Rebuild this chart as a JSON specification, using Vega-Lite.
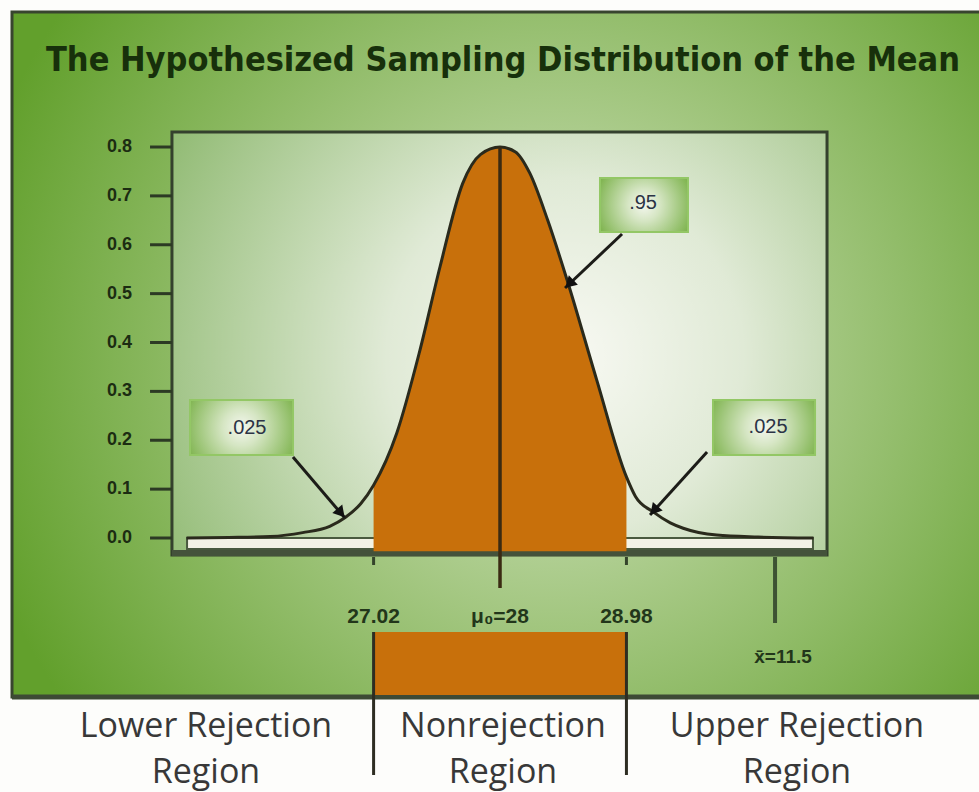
{
  "$schema": "https://vega.github.io/schema/vega-lite/v6.json",
  "width": 979,
  "height": 792,
  "autosize": {"type": "none"},
  "padding": 0,
  "background": "#fdfdfb",
  "config": {"view": {"stroke": null}},
  "datasets": {
    "curve": [
      {"x": 25.57, "density": 0.0},
      {"x": 25.9, "density": 0.001},
      {"x": 26.22, "density": 0.003},
      {"x": 26.47, "density": 0.011},
      {"x": 26.68, "density": 0.024},
      {"x": 26.8, "density": 0.042},
      {"x": 26.92, "density": 0.07},
      {"x": 27.02, "density": 0.108},
      {"x": 27.2, "density": 0.215},
      {"x": 27.38, "density": 0.385},
      {"x": 27.535, "density": 0.555},
      {"x": 27.71, "density": 0.725},
      {"x": 27.85, "density": 0.785},
      {"x": 28.0, "density": 0.8},
      {"x": 28.12, "density": 0.79},
      {"x": 28.23, "density": 0.747},
      {"x": 28.37, "density": 0.65},
      {"x": 28.52, "density": 0.528},
      {"x": 28.75, "density": 0.323},
      {"x": 28.98, "density": 0.125},
      {"x": 29.05, "density": 0.085},
      {"x": 29.19, "density": 0.053},
      {"x": 29.32, "density": 0.031},
      {"x": 29.42, "density": 0.02},
      {"x": 29.68, "density": 0.006},
      {"x": 30.0, "density": 0.002},
      {"x": 30.43, "density": 0.0}
    ],
    "yticks": [
      {"v": 0.0}, {"v": 0.1}, {"v": 0.2}, {"v": 0.3}, {"v": 0.4}, {"v": 0.5}, {"v": 0.6}, {"v": 0.7}, {"v": 0.8}
    ],
    "critical": [
      {"label": "27.02", "x": 27.02},
      {"label": "μ₀=28", "x": 28.0},
      {"label": "28.98", "x": 28.98}
    ],
    "sample": [{"label": "x̄=11.5", "x": 30.132}],
    "regions": [
      {"name": "Lower Rejection\nRegion", "x": 25.721},
      {"name": "Nonrejection\nRegion", "x": 28.023},
      {"name": "Upper Rejection\nRegion", "x": 30.302}
    ],
    "callouts": [
      {"label": ".025", "bx": 25.597, "bx2": 26.395, "by": 0.2824, "by2": 0.1698, "tx": 26.039, "ty": 0.2251, "ax": 26.395, "ay": 0.1657, "hx": 26.798, "hy": 0.0409, "cx": 26.767, "cy": 0.0511},
      {"label": ".95", "bx": 28.775, "bx2": 29.457, "by": 0.7366, "by2": 0.6261, "tx": 29.109, "ty": 0.6854, "ax": 28.946, "ay": 0.622, "hx": 28.504, "hy": 0.5115, "cx": 28.537, "cy": 0.52},
      {"label": ".025", "bx": 29.651, "bx2": 30.442, "by": 0.2824, "by2": 0.1698, "tx": 30.078, "ty": 0.2271, "ax": 29.605, "ay": 0.176, "hx": 29.163, "hy": 0.0471, "cx": 29.194, "cy": 0.0563}
    ],
    "frame": [{"title": "The Hypothesized Sampling Distribution of the Mean"}]
  },
  "layer": [
    {
      "data": {"name": "frame"},
      "mark": {"type": "rect", "stroke": "#38452f", "strokeWidth": 3,
        "fill": {"gradient": "radial", "x1": 0.56, "y1": 0.5, "r1": 0, "x2": 0.56, "y2": 0.5, "r2": 0.62,
          "stops": [{"offset": 0, "color": "#d6e6c6"}, {"offset": 0.45, "color": "#a2c67f"}, {"offset": 1, "color": "#62a02c"}]}},
      "encoding": {
        "x": {"datum": 24.217, "type": "quantitative", "scale": {"domain": [24.124, 31.713], "nice": false, "zero": false}, "axis": null},
        "x2": {"datum": 31.75},
        "y": {"datum": 1.0762, "type": "quantitative", "scale": {"domain": [-0.5197, 1.1008], "nice": false, "zero": false}, "axis": null},
        "y2": {"datum": -0.3253}
      }
    },
    {
      "data": {"name": "frame"},
      "mark": {"type": "rule", "stroke": "#3d4a35", "strokeWidth": 5},
      "encoding": {
        "x": {"datum": 24.217, "type": "quantitative", "scale": {"domain": [24.124, 31.713], "nice": false, "zero": false}, "axis": null},
        "x2": {"datum": 31.75},
        "y": {"datum": -0.3253, "type": "quantitative", "scale": {"domain": [-0.5197, 1.1008], "nice": false, "zero": false}, "axis": null}
      }
    },
    {
      "data": {"name": "frame"},
      "mark": {"type": "rect", "stroke": "#34412d", "strokeWidth": 3,
        "fill": {"gradient": "radial", "x1": 0.6, "y1": 0.52, "r1": 0, "x2": 0.6, "y2": 0.52, "r2": 0.68,
          "stops": [{"offset": 0, "color": "#f8f9f3"}, {"offset": 0.4, "color": "#e0ead6"}, {"offset": 1, "color": "#93bc76"}]}},
      "encoding": {
        "x": {"datum": 25.457, "type": "quantitative", "scale": {"domain": [24.124, 31.713], "nice": false, "zero": false}, "axis": null},
        "x2": {"datum": 30.535},
        "y": {"datum": 0.8307, "type": "quantitative", "scale": {"domain": [-0.5197, 1.1008], "nice": false, "zero": false}, "axis": null},
        "y2": {"datum": -0.0348}
      }
    },
    {
      "data": {"name": "yticks"},
      "mark": {"type": "rule", "stroke": "#2c3a24", "strokeWidth": 3},
      "encoding": {
        "x": {"datum": 25.287, "type": "quantitative", "scale": {"domain": [24.124, 31.713], "nice": false, "zero": false}, "axis": null},
        "x2": {"datum": 25.457},
        "y": {"field": "v", "type": "quantitative", "scale": {"domain": [-0.5197, 1.1008], "nice": false, "zero": false}, "axis": null}
      }
    },
    {
      "data": {"name": "yticks"},
      "mark": {"type": "text", "font": "Liberation Sans", "fontSize": 18, "fontWeight": "bold", "color": "#1c2c12", "align": "right", "baseline": "middle"},
      "encoding": {
        "x": {"datum": 25.147, "type": "quantitative", "scale": {"domain": [24.124, 31.713], "nice": false, "zero": false}, "axis": null},
        "y": {"field": "v", "type": "quantitative", "scale": {"domain": [-0.5197, 1.1008], "nice": false, "zero": false}, "axis": null},
        "text": {"field": "v", "type": "quantitative", "format": ".1f"}
      }
    },
    {
      "data": {"name": "frame"},
      "mark": {"type": "rule", "stroke": "#44523b", "strokeWidth": 6},
      "encoding": {
        "x": {"datum": 25.457, "type": "quantitative", "scale": {"domain": [24.124, 31.713], "nice": false, "zero": false}, "axis": null},
        "x2": {"datum": 30.535},
        "y": {"datum": -0.0307, "type": "quantitative", "scale": {"domain": [-0.5197, 1.1008], "nice": false, "zero": false}, "axis": null}
      }
    },
    {
      "data": {"name": "frame"},
      "mark": {"type": "rect", "fill": "#f4f3e6", "stroke": "#4a5a3f", "strokeWidth": 2},
      "encoding": {
        "x": {"datum": 25.574, "type": "quantitative", "scale": {"domain": [24.124, 31.713], "nice": false, "zero": false}, "axis": null},
        "x2": {"datum": 30.426},
        "y": {"datum": 0.0, "type": "quantitative", "scale": {"domain": [-0.5197, 1.1008], "nice": false, "zero": false}, "axis": null},
        "y2": {"datum": -0.0225}
      }
    },
    {
      "data": {"name": "curve"},
      "transform": [{"filter": "datum.x >= 27.02 && datum.x <= 28.98"}],
      "mark": {"type": "area", "color": "#c8700b", "interpolate": "monotone"},
      "encoding": {
        "x": {"field": "x", "type": "quantitative", "scale": {"domain": [24.124, 31.713], "nice": false, "zero": false}, "axis": null},
        "y": {"field": "density", "type": "quantitative", "scale": {"domain": [-0.5197, 1.1008], "nice": false, "zero": false}, "axis": null},
        "y2": {"datum": -0.027}
      }
    },
    {
      "data": {"name": "curve"},
      "mark": {"type": "line", "color": "#2a2a1c", "strokeWidth": 3, "interpolate": "monotone"},
      "encoding": {
        "x": {"field": "x", "type": "quantitative", "scale": {"domain": [24.124, 31.713], "nice": false, "zero": false}, "axis": null},
        "y": {"field": "density", "type": "quantitative", "scale": {"domain": [-0.5197, 1.1008], "nice": false, "zero": false}, "axis": null}
      }
    },
    {
      "data": {"name": "critical"},
      "transform": [{"filter": "datum.x == 28"}],
      "mark": {"type": "rule", "color": "#3a2a12", "strokeWidth": 3.5},
      "encoding": {
        "x": {"field": "x", "type": "quantitative", "scale": {"domain": [24.124, 31.713], "nice": false, "zero": false}, "axis": null},
        "y": {"datum": 0.8, "type": "quantitative", "scale": {"domain": [-0.5197, 1.1008], "nice": false, "zero": false}, "axis": null},
        "y2": {"datum": -0.1023}
      }
    },
    {
      "data": {"name": "critical"},
      "transform": [{"filter": "datum.x != 28"}],
      "mark": {"type": "rule", "color": "#34432b", "strokeWidth": 3},
      "encoding": {
        "x": {"field": "x", "type": "quantitative", "scale": {"domain": [24.124, 31.713], "nice": false, "zero": false}, "axis": null},
        "y": {"datum": -0.0389, "type": "quantitative", "scale": {"domain": [-0.5197, 1.1008], "nice": false, "zero": false}, "axis": null},
        "y2": {"datum": -0.0552}
      }
    },
    {
      "data": {"name": "sample"},
      "mark": {"type": "rule", "color": "#3d5233", "strokeWidth": 4},
      "encoding": {
        "x": {"field": "x", "type": "quantitative", "scale": {"domain": [24.124, 31.713], "nice": false, "zero": false}, "axis": null},
        "y": {"datum": -0.0389, "type": "quantitative", "scale": {"domain": [-0.5197, 1.1008], "nice": false, "zero": false}, "axis": null},
        "y2": {"datum": -0.1739}
      }
    },
    {
      "data": {"name": "frame"},
      "mark": {"type": "rect", "fill": "#c8700b"},
      "encoding": {
        "x": {"datum": 27.02, "type": "quantitative", "scale": {"domain": [24.124, 31.713], "nice": false, "zero": false}, "axis": null},
        "x2": {"datum": 28.98},
        "y": {"datum": -0.1923, "type": "quantitative", "scale": {"domain": [-0.5197, 1.1008], "nice": false, "zero": false}, "axis": null},
        "y2": {"datum": -0.3212}
      }
    },
    {
      "data": {"name": "critical"},
      "transform": [{"filter": "datum.x != 28"}],
      "mark": {"type": "rule", "color": "#2e2d22", "strokeWidth": 3},
      "encoding": {
        "x": {"field": "x", "type": "quantitative", "scale": {"domain": [24.124, 31.713], "nice": false, "zero": false}, "axis": null},
        "y": {"datum": -0.1923, "type": "quantitative", "scale": {"domain": [-0.5197, 1.1008], "nice": false, "zero": false}, "axis": null},
        "y2": {"datum": -0.4849}
      }
    },
    {
      "data": {"name": "critical"},
      "mark": {"type": "text", "font": "Liberation Sans", "fontSize": 21, "fontWeight": "bold", "color": "#22361a", "baseline": "middle", "align": "center"},
      "encoding": {
        "x": {"field": "x", "type": "quantitative", "scale": {"domain": [24.124, 31.713], "nice": false, "zero": false}, "axis": null},
        "y": {"datum": -0.1616, "type": "quantitative", "scale": {"domain": [-0.5197, 1.1008], "nice": false, "zero": false}, "axis": null},
        "text": {"field": "label"}
      }
    },
    {
      "data": {"name": "sample"},
      "mark": {"type": "text", "font": "Liberation Sans", "fontSize": 19, "fontWeight": "bold", "color": "#22361a", "baseline": "middle", "align": "center", "dx": 8},
      "encoding": {
        "x": {"field": "x", "type": "quantitative", "scale": {"domain": [24.124, 31.713], "nice": false, "zero": false}, "axis": null},
        "y": {"datum": -0.2435, "type": "quantitative", "scale": {"domain": [-0.5197, 1.1008], "nice": false, "zero": false}, "axis": null},
        "text": {"field": "label"}
      }
    },
    {
      "data": {"name": "callouts"},
      "mark": {"type": "rule", "color": "#1c1c18", "strokeWidth": 3},
      "encoding": {
        "x": {"field": "ax", "type": "quantitative", "scale": {"domain": [24.124, 31.713], "nice": false, "zero": false}, "axis": null},
        "x2": {"field": "hx"},
        "y": {"field": "ay", "type": "quantitative", "scale": {"domain": [-0.5197, 1.1008], "nice": false, "zero": false}, "axis": null},
        "y2": {"field": "hy"}
      }
    },
    {
      "data": {"name": "callouts"},
      "transform": [{"filter": "datum.cx < 27"}],
      "mark": {"type": "point", "shape": "triangle-up", "filled": true, "color": "#111111", "opacity": 1, "size": 170, "angle": 139.6},
      "encoding": {
        "x": {"field": "cx", "type": "quantitative", "scale": {"domain": [24.124, 31.713], "nice": false, "zero": false}, "axis": null},
        "y": {"field": "cy", "type": "quantitative", "scale": {"domain": [-0.5197, 1.1008], "nice": false, "zero": false}, "axis": null}
      }
    },
    {
      "data": {"name": "callouts"},
      "transform": [{"filter": "datum.cx > 28 && datum.cx < 29"}],
      "mark": {"type": "point", "shape": "triangle-up", "filled": true, "color": "#111111", "opacity": 1, "size": 170, "angle": 226},
      "encoding": {
        "x": {"field": "cx", "type": "quantitative", "scale": {"domain": [24.124, 31.713], "nice": false, "zero": false}, "axis": null},
        "y": {"field": "cy", "type": "quantitative", "scale": {"domain": [-0.5197, 1.1008], "nice": false, "zero": false}, "axis": null}
      }
    },
    {
      "data": {"name": "callouts"},
      "transform": [{"filter": "datum.cx > 29"}],
      "mark": {"type": "point", "shape": "triangle-up", "filled": true, "color": "#111111", "opacity": 1, "size": 170, "angle": 221.2},
      "encoding": {
        "x": {"field": "cx", "type": "quantitative", "scale": {"domain": [24.124, 31.713], "nice": false, "zero": false}, "axis": null},
        "y": {"field": "cy", "type": "quantitative", "scale": {"domain": [-0.5197, 1.1008], "nice": false, "zero": false}, "axis": null}
      }
    },
    {
      "data": {"name": "callouts"},
      "mark": {"type": "rect", "stroke": "#93c765", "strokeWidth": 2,
        "fill": {"gradient": "radial", "x1": 0.5, "y1": 0.5, "r1": 0, "x2": 0.5, "y2": 0.5, "r2": 0.6,
          "stops": [{"offset": 0, "color": "#f4f7ef"}, {"offset": 0.3, "color": "#d6e6c4"}, {"offset": 1, "color": "#78b046"}]}},
      "encoding": {
        "x": {"field": "bx", "type": "quantitative", "scale": {"domain": [24.124, 31.713], "nice": false, "zero": false}, "axis": null},
        "x2": {"field": "bx2"},
        "y": {"field": "by", "type": "quantitative", "scale": {"domain": [-0.5197, 1.1008], "nice": false, "zero": false}, "axis": null},
        "y2": {"field": "by2"}
      }
    },
    {
      "data": {"name": "callouts"},
      "mark": {"type": "text", "font": "Liberation Sans", "fontSize": 20, "color": "#2b3345", "baseline": "middle", "align": "center"},
      "encoding": {
        "x": {"field": "tx", "type": "quantitative", "scale": {"domain": [24.124, 31.713], "nice": false, "zero": false}, "axis": null},
        "y": {"field": "ty", "type": "quantitative", "scale": {"domain": [-0.5197, 1.1008], "nice": false, "zero": false}, "axis": null},
        "text": {"field": "label"}
      }
    },
    {
      "data": {"name": "regions"},
      "mark": {"type": "text", "font": "Open Sans", "fontSize": 34, "color": "#383838", "baseline": "middle", "align": "center", "lineBreak": "\n", "lineHeight": 46},
      "encoding": {
        "x": {"field": "x", "type": "quantitative", "scale": {"domain": [24.124, 31.713], "nice": false, "zero": false}, "axis": null},
        "y": {"datum": -0.3867, "type": "quantitative", "scale": {"domain": [-0.5197, 1.1008], "nice": false, "zero": false}, "axis": null},
        "text": {"field": "name"}
      }
    },
    {
      "data": {"name": "frame"},
      "mark": {"type": "text", "font": "DejaVu Sans Condensed", "fontSize": 34, "fontWeight": "bold", "color": "#17300b", "baseline": "middle", "align": "center"},
      "encoding": {
        "x": {"datum": 28.023, "type": "quantitative", "scale": {"domain": [24.124, 31.713], "nice": false, "zero": false}, "axis": null},
        "y": {"datum": 0.976, "type": "quantitative", "scale": {"domain": [-0.5197, 1.1008], "nice": false, "zero": false}, "axis": null},
        "text": {"field": "title"}
      }
    }
  ]
}
